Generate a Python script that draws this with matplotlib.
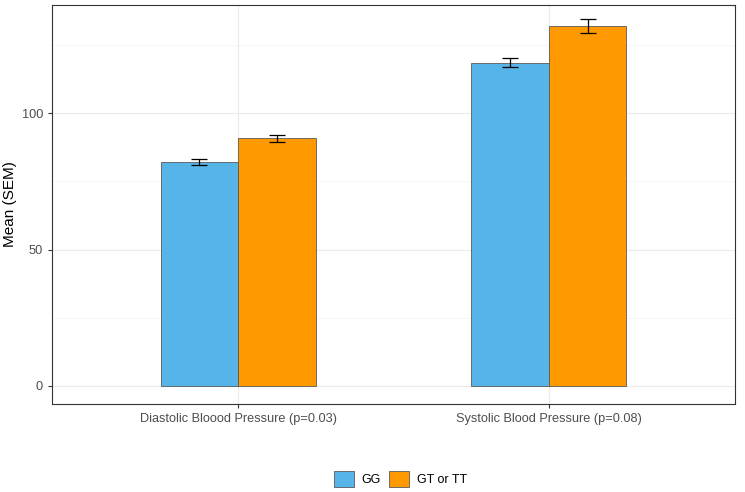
import numpy as np
import matplotlib
matplotlib.use('Agg')
import matplotlib.pyplot as plt
from matplotlib.patches import Patch

plt.rcParams['font.family'] = ['Liberation Sans', 'DejaVu Sans']

categories = ['Diastolic Bloood Pressure (p=0.03)', 'Systolic Blood Pressure (p=0.08)']
groups = ['GG', 'GT or TT']
means = {'GG': [82.1, 118.5], 'GT or TT': [90.7, 131.8]}
sems = {'GG': [1.2, 1.75], 'GT or TT': [1.35, 2.55]}
colors = {'GG': '#56B4E9', 'GT or TT': '#FF9900'}

fig = plt.figure(figsize=(7.45, 4.92), dpi=100)
ax = fig.add_axes([52/745, 88/492, 683/745, 399/492])

x = np.arange(1, len(categories) + 1)
w = 0.25
for k, g in enumerate(groups):
    xs = x + (k - 0.5) * w
    ax.bar(xs, means[g], width=w, color=colors[g], edgecolor='#5a5a5a', linewidth=0.6, zorder=3)
    ax.errorbar(xs, means[g], yerr=sems[g], fmt='none', ecolor='black', elinewidth=0.9,
                capsize=5.5, capthick=0.9, zorder=4)

ax.set_xlim(0.4, 2.6)
ax.set_ylim(-6.6, 139.6)
ax.set_xticks(x)
ax.set_xticklabels(categories)
ax.set_yticks([0, 50, 100])
ax.set_yticks([25, 75, 125], minor=True)
ax.grid(which='major', color='#EBEBEB', linewidth=0.9, zorder=0)
ax.grid(which='minor', axis='y', color='#F3F3F3', linewidth=0.5, zorder=0)
ax.tick_params(axis='both', which='major', labelsize=9.2, labelcolor='#4D4D4D', color='#333333', length=3)
ax.tick_params(axis='y', which='minor', length=0)
ax.set_ylabel('Mean (SEM)', fontsize=11, color='black', labelpad=3)
for s in ax.spines.values():
    s.set_color('#333333')
    s.set_linewidth(0.8)

handles = [Patch(facecolor=colors[g], edgecolor='#5a5a5a', linewidth=0.6, label=g) for g in groups]
fig.legend(handles=handles, loc='center', bbox_to_anchor=(0.537, 0.027), ncol=2, frameon=False,
           fontsize=9, handlelength=1.6, handleheight=1.6, columnspacing=0.7, handletextpad=0.6,
           borderpad=0)

fig.savefig('out.png', dpi=100)
